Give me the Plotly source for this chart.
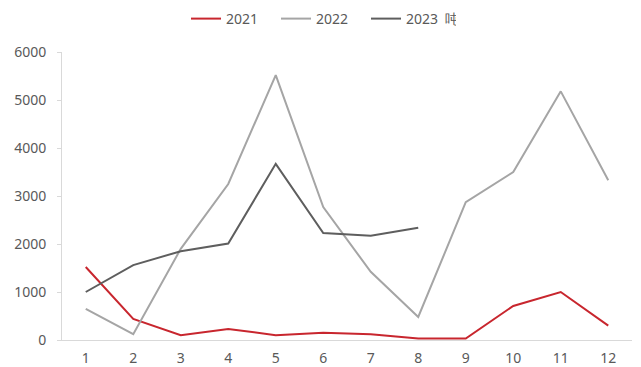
import plotly.graph_objects as go

months = [str(m) for m in range(1, 13)]
y2021 = [1520, 440, 100, 230, 100, 150, 120, 30, 30, 710, 1000, 300]
y2022 = [650, 120, 1900, 3250, 5520, 2770, 1420, 480, 2870, 3500, 5180, 3330]
y2023 = [1000, 1560, 1850, 2010, 3670, 2230, 2170, 2340]
y_ticks = [0, 1000, 2000, 3000, 4000, 5000, 6000]

series = [
    ("2021", y2021, "#C8262E"),
    ("2022", y2022, "#A5A5A5"),
    ("2023\u00a0\u00a0吨", y2023, "#5E5E5E"),
]

W, H = 641, 367

fig = go.Figure()
for name, vals, color in series:
    fig.add_trace(go.Scatter(
        x=months[:len(vals)], y=vals, name=name, mode="lines",
        line=dict(color=color, width=2),
    ))

fig.update_layout(
    width=W, height=H,
    margin=dict(l=62, r=9, t=52, b=27, autoexpand=False),
    paper_bgcolor="white", plot_bgcolor="white",
    font=dict(family="Noto Sans, DejaVu Sans, sans-serif", size=14, color="#595959"),
    showlegend=True,
    legend=dict(orientation="h", x=(186 - 62) / 570, xanchor="left",
                y=1 - 3 / H, yanchor="top", yref="container",
                font=dict(size=14, color="#595959"),
                entrywidth=45, entrywidthmode="pixels",
                itemwidth=30, tracegroupgap=0, bgcolor="rgba(0,0,0,0)"),
    xaxis=dict(type="category", range=[-0.5, 11.5], showgrid=False,
               showline=True, linecolor="#D9D9D9", linewidth=1,
               ticks="", tickfont=dict(size=14, color="#595959"),
               ticklabelstandoff=5, automargin=False, fixedrange=True),
    yaxis=dict(range=[0, 6000], tickvals=y_ticks, showgrid=False,
               showline=True, linecolor="#D9D9D9", linewidth=1,
               ticks="outside", ticklen=4, tickcolor="#D9D9D9",
               tickfont=dict(size=14, color="#595959"), zeroline=False,
               ticklabelstandoff=8, automargin=False, fixedrange=True),
)

fig.write_html("out.html")
